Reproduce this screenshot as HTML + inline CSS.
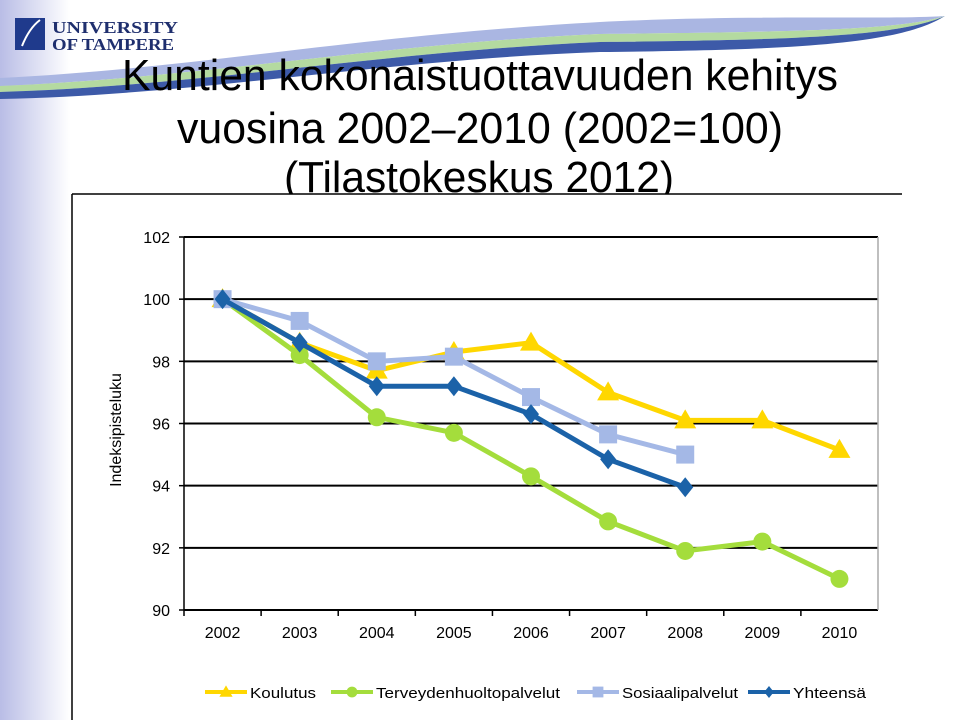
<!DOCTYPE html>
<html><head><meta charset="utf-8"><style>
html,body{margin:0;padding:0;background:#fff;}
svg{display:block;font-family:"Liberation Sans",Arial,sans-serif;}
</style></head><body>
<svg id="s" width="960" height="720" viewBox="0 0 960 720">
<defs>
<linearGradient id="lg" x1="0" x2="1" y1="0" y2="0">
<stop offset="0" stop-color="#b9bde6"/><stop offset="1" stop-color="#ffffff"/>
</linearGradient>
</defs>
<rect x="0" y="0" width="70" height="720" fill="url(#lg)"/>
<g>
<path d="M0 78 C200 68 350 36 600 22 C760 14 880 20 945 16 C900 30 800 32 600 34 C380 44 200 78 0 86 Z" fill="#aab6e2"/>
<path d="M0 86 C200 78 380 44 600 34 C800 32 900 30 945 16 C900 36 800 40 600 42 C380 52 200 86 0 92 Z" fill="#b4daa0"/>
<path d="M0 92 C200 86 380 52 600 42 C800 40 900 36 945 16 C900 44 800 50 600 52 C380 60 200 95 0 99 Z" fill="#3d5aa8"/>
</g>
<g>
<rect x="15" y="18" width="30" height="32" fill="#1f3a8c"/>
<path d="M22 46 C26 36 32 26 40 20" stroke="#fff" stroke-width="2" fill="none"/>
<text x="52" y="33" font-family="Liberation Serif,serif" font-weight="bold" font-size="17" fill="#1f2f6e" textLength="126" lengthAdjust="spacingAndGlyphs">UNIVERSITY</text>
<text x="52" y="50" font-family="Liberation Serif,serif" font-weight="bold" font-size="17" fill="#1f2f6e" textLength="122" lengthAdjust="spacingAndGlyphs">OF TAMPERE</text>
</g>
<g font-size="44" fill="#000" text-anchor="middle">
<text x="480" y="90" textLength="716" lengthAdjust="spacingAndGlyphs">Kuntien kokonaistuottavuuden kehitys</text>
<text x="480" y="143" textLength="606" lengthAdjust="spacingAndGlyphs">vuosina 2002–2010 (2002=100)</text>
<text x="479" y="192" textLength="390" lengthAdjust="spacingAndGlyphs">(Tilastokeskus 2012)</text>
</g>
<rect x="72" y="194" width="840" height="530" fill="#fff"/>
<line x1="72" y1="194" x2="902" y2="194" stroke="#000" stroke-width="1.5"/>
<line x1="72" y1="194" x2="72" y2="720" stroke="#000" stroke-width="1.5"/>
<g id="chart"></g>
</svg>
<script>
const years = ["2002","2003","2004","2005","2006","2007","2008","2009","2010"];
const yTicks = [90,92,94,96,98,100,102];
const koulutus = [100,98.6,97.7,98.3,98.6,97.0,96.1,96.1,95.15];
const terveys = [100,98.2,96.2,95.7,94.3,92.85,91.9,92.2,91.0];
const sosiaali = [100,99.3,98.0,98.15,96.85,95.65,95.0];
const yhteensa = [100,98.6,97.2,97.2,96.3,94.85,93.95];
const seriesNames = ["Koulutus","Terveydenhuoltopalvelut","Sosiaalipalvelut","Yhteensä"];

const NS="http://www.w3.org/2000/svg";
const g=document.getElementById('chart');
const L=184,R=878,T=237,B=610,ymin=90,ymax=102;
const yS=v=>B-(v-ymin)/(ymax-ymin)*(B-T);
const step=(R-L)/years.length;
const xS=i=>L+step*(i+0.5);
function mk(t,a,p){const e=document.createElementNS(NS,t);for(const k in a)e.setAttribute(k,a[k]);(p||g).appendChild(e);return e;}

yTicks.forEach(v=>{
  const l=mk('line',{x1:L,x2:R,y1:yS(v),y2:yS(v),stroke:'#000','stroke-width':2});
  
  
  const t=mk('text',{x:170,y:yS(v)+6,'text-anchor':'end','font-size':16,fill:'#000'});
  t.textContent=v;
  
  
  const tk=mk('line',{x1:L-5,x2:L,y1:yS(v),y2:yS(v),stroke:'#000','stroke-width':1.5});
  
  
});
const ax=mk('line',{x1:L,x2:L,y1:T,y2:B,stroke:'#000','stroke-width':1.5});


const rb=mk('line',{x1:R,x2:R,y1:T,y2:B,stroke:'#aaa','stroke-width':1.5});


years.forEach((y,i)=>{
  const tk=mk('line',{x1:L+step*i,x2:L+step*i,y1:B,y2:B+6,stroke:'#000','stroke-width':1.5});
  
  
  const t=mk('text',{x:xS(i),y:B+28,'text-anchor':'middle','font-size':16});
  t.textContent=y;
  
  
});
const yt=mk('text',{x:0,y:0,'text-anchor':'middle','font-size':16,transform:'translate(121,430) rotate(-90)'});
yt.textContent='Indeksipisteluku';



function marker(shape,x,y,c,parent){
  let e;
  if(shape==='tri') e=mk('polygon',{points:`${x},${y-11} ${x+11},${y+8} ${x-11},${y+8}`,fill:c},parent);
  else if(shape==='circ') e=mk('circle',{cx:x,cy:y,r:9,fill:c},parent);
  else if(shape==='sq') e=mk('rect',{x:x-9,y:y-9,width:18,height:18,fill:c},parent);
  else e=mk('polygon',{points:`${x},${y-10} ${x+8},${y} ${x},${y+10} ${x-8},${y}`,fill:c},parent);
  return e;
}
const defs=[[koulutus,'#ffd700','tri','koulutus'],[terveys,'#a4dd3c','circ','terveydenhuolto'],[sosiaali,'#a4b8e6','sq','sosiaali'],[yhteensa,'#1b62a8','dia','yhteensa']];
defs.forEach(([d,c,sh,nm])=>{
  const sg=mk('g',{});
  
  
  const pl=mk('polyline',{points:d.map((v,i)=>xS(i)+','+yS(v)).join(' '),fill:'none',stroke:c,'stroke-width':5,'stroke-linejoin':'round'},sg);
  
  
  d.forEach((v,i)=>{
    const m=marker(sh,xS(i),yS(v),c,sg);
    
    
  });
});
// legend
const lx=[205,331,577,748], tw=[66,184,116,73];
defs.forEach(([d,c,sh,nm],k)=>{
  const lg=mk('g',{});
  
  
  const x=lx[k];
  mk('line',{x1:x,x2:x+42,y1:692,y2:692,stroke:c,'stroke-width':4},lg);
  const mm=marker(sh,x+21,692,c,lg);
  mm.setAttribute('transform',`translate(${(x+21)*0.4},${692*0.4}) scale(0.6)`);
  const t=mk('text',{x:x+45,y:698,'font-size':15,textLength:tw[k],lengthAdjust:'spacingAndGlyphs'},lg);
  t.textContent=seriesNames[k];
});
</script>
</body></html>
